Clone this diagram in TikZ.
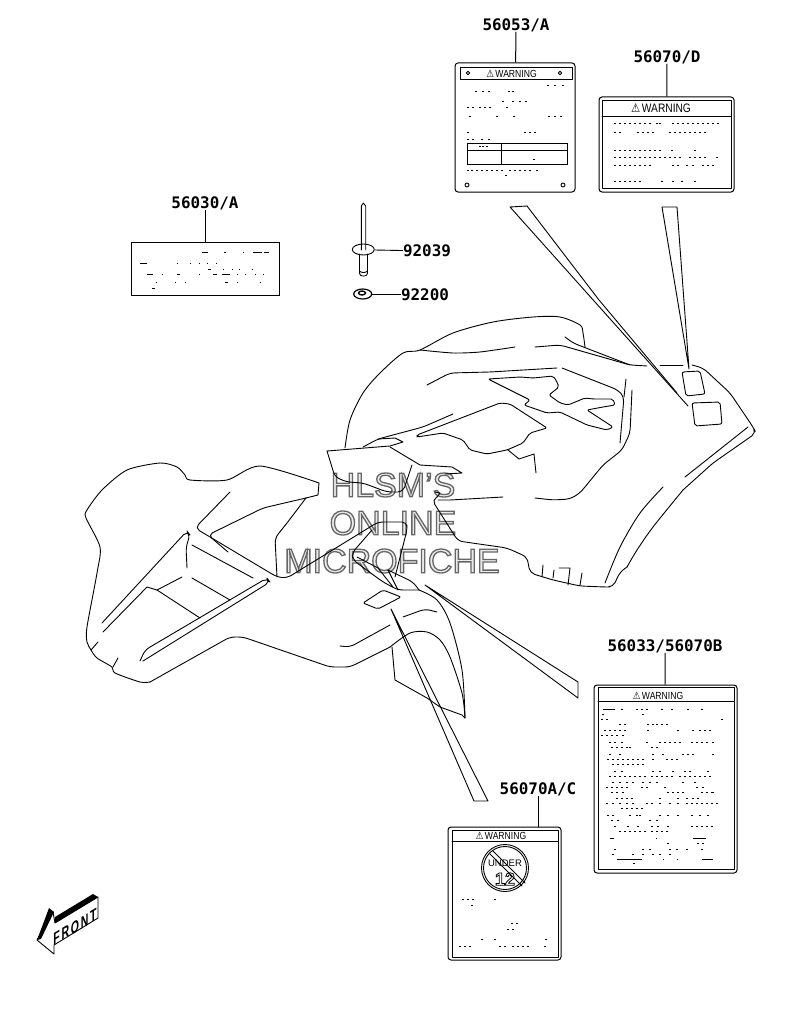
\documentclass[tikz,border=0pt]{standalone}
\usepackage{fontspec}
\setmainfont{Liberation Sans}
\newfontfamily\partfam{DejaVu Sans Mono}[BoldFont={DejaVu Sans Mono Bold}]
\newfontfamily\symfam{DejaVu Sans}
\newcommand{\warnsign}{{\symfam\char"26A0}}
% outlined text, stroke and fill set by hand
\newcommand{\hollow}[1]{\special{pdf:code 2 Tr 1.3 w 0.4 G 0.92 g}#1\special{pdf:code 0 Tr 1 w 0 G 0 g}}
\newcommand{\hollowblack}[1]{\special{pdf:code 2 Tr 0.8 w 0 G 1 g}#1\special{pdf:code 0 Tr 1 w 0 G 0 g}}
\newcommand{\rowdots}[2]{\foreach \px in {#2} \fill (\px-.8,#1-.5) rectangle (\px+.8,#1+.5);}
\newcommand{\rowdash}[2]{\foreach \pa/\pb in {#2} \fill (\pa,#1-.5) rectangle (\pb,#1+.5);}
\tikzset{
  outl/.style={line width=0.9pt, line join=round, line cap=round},
  soft/.style={outl, rounded corners=5pt},
  partno/.style={font=\partfam\bfseries\fontsize{15.9}{16}\selectfont, inner sep=0pt},
  plate/.style={draw, line width=1pt, rounded corners=3pt, inner sep=0pt},
  warnhead/.style={font=\fontsize{#1}{#1}\selectfont, inner sep=0pt, yscale=1.2},
  watermark/.style={font=\fontsize{34}{34}\selectfont, inner sep=0pt}
}
\begin{document}
\begin{tikzpicture}[x=1pt,y=-1pt]
\useasboundingbox (0,0) rectangle (786,1014);
\fill[white] (0,0) rectangle (786,1014);

% Drawing watermark
\node[watermark] (mark1) at (393,485) {\hollow{HLSM'S}};
\node[watermark] (mark2) at (393,523) {\hollow{ONLINE}};
\node[watermark] (mark3) at (392,561) {\hollow{MICROFICHE}};

% Drawing front fender
\draw[outl] plot[smooth,tension=.5] coordinates {(345,448) (350,420) (363,393) (380,373) (403,353) (420,350) (453,333) (493,322) (533,317) (560,317) (580,325) (583,333) (585,347)};
\draw[outl] plot[smooth,tension=.4] coordinates {(420,350) (453,353) (480,352) (515,347)};
\draw[soft] (535,347) -- (560,345) -- (630,365) -- (647,366);
\draw[soft] (565,337) -- (573,343) -- (630,365);
\draw[outl] (660,365) -- (683,365);
\draw[soft] (692,365) -- (703,368) -- (730,393) -- (753,427) -- (756,433) -- (713,463) -- (683,490);
\draw[outl] plot[smooth,tension=.5] coordinates {(683,490) (653,527) (637,550) (627,567)};
\draw[soft] (627,567) -- (620,572) -- (613,587) -- (605,587) -- (580,586) -- (553,580) -- (530,573) -- (527,557) -- (507,548) -- (458,541) -- (432,500) -- (437,497);
\draw[outl] (685,477) -- (748,427);
\draw[outl] plot[smooth,tension=.5] coordinates {(663,487) (640,513) (620,547) (605,583)};
\draw[outl] (543,565) -- (542,577);
\draw[outl] (554,570) -- (553,578);
\draw[outl] (559,568) -- (570,568) -- (568,585);
\draw[outl] (582,573) -- (580,585);
\draw[outl] (438,500) -- (450,500) -- (503,497);
\draw[soft] (535,498) -- (553,500) -- (570,499) -- (580,493) -- (603,465) -- (622,450) -- (630,433) -- (632,390);
\draw[soft] (620,443) -- (624,397) -- (618,390) -- (562,368);
\draw[outl] (626,379) -- (624,397);
\draw[soft] (427,385) -- (450,373) -- (490,372) -- (557,368);
\draw[outl,rounded corners=2pt] (488,379) -- (520,377) -- (533,378) -- (553,376) -- (556,380) -- (559,387) -- (549,395) -- (560,403) -- (568,405) -- (585,398) -- (593,399) -- (613,399) -- (615,405) -- (603,407) -- (587,410) -- (613,427) -- (607,430) -- (587,425) -- (560,412) -- (547,413) -- (524,405) -- (530,400) -- cycle;
\draw[outl,rounded corners=2pt] (417,435) -- (500,403) -- (510,404) -- (547,428) -- (530,433) -- (523,443) -- (507,450) -- (487,454) -- (470,450) -- (463,440) -- (443,433) -- (417,437) -- cycle;
\draw[outl] (508,450) -- (519,459) -- (534,454) -- (536,473);
\draw[soft] (453,414) -- (423,427) -- (378,439) -- (363,447);
\draw[outl] (327,451) -- (390,446) -- (403,442) -- (395,438) -- (378,439);
\draw[soft] (327,451) -- (335,477) -- (347,482) -- (363,483) -- (387,492) -- (403,492) -- (412,465);
\draw[outl] (390,447) -- (420,465) -- (452,467) -- (462,473) -- (445,474);
\draw[outl] (435,492) -- (440,493) -- (437,497);

% Drawing decals on fender
\draw[outl,rounded corners=2pt] (682,372) -- (700,371) -- (705,394) -- (686,396) -- cycle;
\draw[outl,rounded corners=2pt] (692,403) -- (720,402) -- (722,424) -- (695,426) -- cycle;
\draw[outl,rounded corners=2pt] (363,603) -- (383,590) -- (401,597) -- (378,609) -- cycle;

% Drawing rear fender
\draw[outl] plot[smooth,tension=.45] coordinates {(319,483) (260,466) (227,480) (190,480) (185,475) (177,467) (160,463) (127,470) (102,490) (87,510) (86,518) (100,547) (97,573) (87,627) (87,642) (91,650) (97,658) (112,667) (115,673) (140,682) (150,682)};
\draw[soft] (150,682) -- (230,637) -- (243,637) -- (330,667) -- (350,667) -- (390,647);
\draw[outl] plot[smooth,tension=.5] coordinates {(390,647) (410,633) (427,632) (440,640) (450,657) (462,693) (465,718)};
\draw[outl] (465,718) -- (462,715) -- (440,707) -- (427,698) -- (395,680) -- (392,647);
\draw[outl] plot[smooth,tension=.5] coordinates {(419,590) (437,600) (450,623) (462,670) (465,718)};
\draw[outl] (319,483) -- (318,495) -- (306,498);
\draw[soft] (306,498) -- (287,523) -- (275,538) -- (277,577);
\draw[soft] (306,498) -- (263,508) -- (208,535) -- (228,552);
\draw[soft] (230,492) -- (195,528) -- (277,577) -- (287,578) -- (370,527) -- (378,522) -- (407,522) -- (407,530) -- (395,577);
\draw[outl] (192,545) -- (253,578);
\draw[outl] (192,578) -- (230,600);
\draw[soft] (102,623) -- (187,531) -- (190,535) -- (186,547) -- (187,568);
\draw[outl] (103,632) -- (147,587) -- (157,590) -- (200,618);
\draw[outl] (157,590) -- (182,577);
\draw[soft] (140,661) -- (145,650) -- (267,578) -- (270,582) -- (143,661);
\draw[soft] (372,530) -- (352,553) -- (353,560) -- (383,582) -- (398,590) -- (419,590);
\draw[outl] (357,557) -- (378,568) -- (393,587);
\draw[outl] (388,570) -- (398,590);
\draw[soft] (388,570) -- (413,582) -- (419,590);
\draw[soft] (340,646) -- (350,647) -- (390,625);
\draw[soft] (403,617) -- (425,609) -- (437,612);
\draw[outl] (91,650) -- (98,642);
\draw[outl] (113,667) -- (118,658);

% Drawing callout wedges
\draw[outl] (527,206) -- (510,207) -- (688,406);
\draw[outl] (527,206) -- (599,300) -- (677,393);
\draw[outl] (689,369) -- (662,207) -- (677,207) -- (689,369);
\draw[outl] (425,585) -- (578,682) -- (578,698) -- cycle;
\draw[outl] (391,609) -- (474,801) -- (488,801) -- cycle;

% Drawing plate 56053/A
\node[partno] (lbl53) at (516,25) {56053/A};
\node[plate, minimum width=120pt, minimum height=129pt] (box53) at (515,127.5) {};
\draw[line width=1pt] (lbl53) -- (box53);
\draw[outl] (460,67) rectangle (572,79);
\node[warnhead=8.6] (warn53) at (511.5,73.5) {\warnsign\,WARNING};
\draw[outl] (468,73) circle (1.7);
\draw[outl] (560,73) circle (1.7);
\draw[outl] (467,185) circle (2);
\draw[outl] (563,185) circle (2);
\draw[line width=1pt] (467,143) rectangle (567,164);
\draw[line width=1pt] (501,143) -- (501,164);
\draw[line width=1pt] (467,150) -- (567,150);
\rowdots{86}{548,555,563}
\rowdots{92}{476,483,489,509,513}
\rowdots{102}{503,513,520,526}
\rowdots{108}{468,473,480,485,490,507}
\rowdots{117}{470,497,514,549,555,561}
\rowdots{133}{468,525,530,535}
\rowdots{139}{468,473,482,489}
\rowdots{146}{480,483,487}
\rowdots{159}{534}
\rowdots{170}{468,472,477,482,487,492,497,502,510,515,520,525,530,537}
\rowdots{175}{506}

% Drawing plate 56070/D
\node[partno] (lbl70d) at (667,57) {56070/D};
\node[plate, minimum width=135pt, minimum height=95pt] (box70d) at (666.5,144.5) {};
\draw[line width=1pt] (lbl70d) -- (box70d);
\draw[outl] (602,100) rectangle (731,188);
\draw[outl] (602,116) -- (731,116);
\node[warnhead=10.2] (warn70d) at (661,108) {\warnsign\,WARNING};
\rowdots{124}{615,620,...,650,657,660,673,678,...,718}
\rowdots{133}{615,620,638,643,648,653,670,675,...,705}
\rowdots{150}{615,620,...,660,672,695}
\rowdots{157}{615,620,...,660,665,670,675,680,690,695,700,705,717}
\rowdots{165}{615,620,...,650,673,678,687,693,703,708,713}
\rowdots{181}{615,620,...,640,662,673,682,695}

% Drawing plate 56030/A
\node[partno] (lbl30) at (205,203) {56030/A};
\node[draw, line width=1pt, inner sep=0pt, minimum width=148pt, minimum height=53pt] (box30) at (205,268.5) {};
\draw[line width=1pt] (lbl30) -- (box30);
\rowdash{252}{202/208,224/226,243/244,253/262,264/269}
\rowdash{263}{140/147,177/178,190/191,199/200,207/208,216/217}
\rowdash{269}{208/211,223/224,232/233,239/240,252/253}
\rowdash{274}{147/153,162/163,177/180,199/200,213/217,222/230,237/238,245/246,255/256,263/264}
\rowdash{282}{156/157,175/176,185/186,225/228,237/238,260/261}
\rowdash{288}{152/155}

% Drawing rivet 92039
\draw[outl] (361.3,250) -- (361.3,206) -- (363.3,203) -- (365.7,206) -- (365.7,250);
\draw[outl] (363.3,249.5) ellipse (11 and 5.5);
\draw[outl,rounded corners=3pt] (359.5,254) -- (359.5,276) -- (367.5,276) -- (367.5,254);
\draw[outl] (359.5,271) .. controls (361,273) and (366,273) .. (367.5,271);
\node[partno] (lbl39) at (427,251) {92039};
\coordinate (rivet) at (374.5,250);
\draw[line width=.9pt] (rivet) -- (lbl39);

% Drawing washer 92200
\draw[line width=1.2pt] (362.7,294) ellipse (9 and 5);
\draw[line width=1.4pt] (362,293) ellipse (3.5 and 2);
\node[partno] (lbl22) at (425,294.5) {92200};
\coordinate (washer) at (371.7,294.5);
\draw[line width=.9pt] (washer) -- (lbl22);

% Drawing plate 56033/56070B
\node[partno] (lbl33) at (665,646) {56033/56070B};
\node[plate, minimum width=143pt, minimum height=188pt] (box33) at (665.5,779) {};
\draw[line width=1pt] (lbl33) -- (box33);
\draw[outl] (598,687) rectangle (734,869);
\draw[outl] (598,701) -- (734,701);
\node[warnhead=8.6] (warn33) at (658,696) {\warnsign\,WARNING};
\rowdash{709}{603/615}
\rowdots{709}{622,637,642,647,662,672,688,702}
\rowdots{714}{603,643}
\rowdots{719}{602,607,722}
\rowdots{724}{620,625,648,653,657,662,667}
\rowdots{730}{605,610,615,620,625,648,678,693,700,705,710}
\rowdots{735}{602,607,612,617,623}
\rowdots{742}{610,615,622,647,660,665,670,675,680,692,697,702,707,713}
\rowdots{747}{612,617,622,627,630,652,657}
\rowdots{754}{610,620,653,663,683,688,693,713}
\rowdots{759}{608,613,...,643,653,667,672,677}
\rowdots{764}{613,618,...,647}
\rowdots{771}{615,622,653,660,673,685,690,708}
\rowdots{776}{610,615,...,645,652,657,...,672,680,685,...,713}
\rowdots{782}{613,620,627,633,643,650,657,683,695}
\rowdots{787}{607,612,...,627,642,647,665,697,703}
\rowdots{792}{612,617,623,668,673,678,683,702,707,712,713}
\rowdots{798}{617,622,627,632,660,678,687,693,698}
\rowdots{803}{607,613,620,627,633,647,652,660,670,678,687,692,...,718}
\rowdots{808}{622,627,...,645}
\rowdots{815}{608,613,630,637,640,660,668,678,692,700,708}
\rowdots{820}{612,618,650,657}
\rowdots{826}{615,628,638,652,658,668,692,697,...,713}
\rowdots{831}{620,625,...,645,652,657,...,670}
\rowdash{838}{610/614,656/657,693/706}
\rowdots{843}{668,698,703}
\rowdots{849}{615,643,650,670,677,687,702}
\rowdots{854}{613,633,643,653,660,670}
\rowdash{859}{617/642,663/664,677/678,702/713}
\rowdots{863}{634}

% Drawing plate 56070A/C
\node[partno] (lblac) at (538,789) {56070A/C};
\node[plate, minimum width=113pt, minimum height=133pt] (boxac) at (504.5,893.5) {};
\draw[line width=1pt] (lblac) -- (lblac |- boxac.north);
\draw[outl] (452,830) rectangle (558,957);
\draw[outl] (452,841) -- (558,841);
\node[warnhead=8.6] (warnac) at (501,836) {\warnsign\,WARNING};
\draw[outl] (505,868) circle (23.5);
\draw[outl] (505,868) circle (21.5);
\node[inner sep=0pt, font=\fontsize{9.5}{10}\selectfont] (under) at (505,863) {UNDER};
\node[inner sep=0pt, font=\bfseries\fontsize{18}{18}\selectfont] (twelve) at (505,879) {\hollowblack{12}};
\draw[outl] (490,854) -- (522,886);
\draw[outl] (493,851) -- (525,883);
\rowdots{899}{463,468,473,495}
\rowdots{905}{472}
\rowdots{923}{512,517}
\rowdots{929}{508,513}
\rowdots{939}{482,495,546}
\rowdots{946}{460,465,470,500,505,513,518,523,528,545}

% Drawing front arrow
\draw[line width=.9pt, line join=round, fill=white] (37,940) -- (53,912) -- (55,923) -- (98,897) -- (98,918) -- (54,945) -- (54,954) -- cycle;
\fill (37,940) -- (49,908) -- (54,912) -- (41,939) -- cycle;
\fill (55,917) -- (93,894) -- (98,897) -- (55,923) -- cycle;
\node[inner sep=0pt, font=\bfseries\fontsize{17}{17}\selectfont, cm={.62,.37,0,1,(0,0)}] (front) at (75,927) {F\,R\,O\,N\,T};
\end{tikzpicture}
\end{document}
